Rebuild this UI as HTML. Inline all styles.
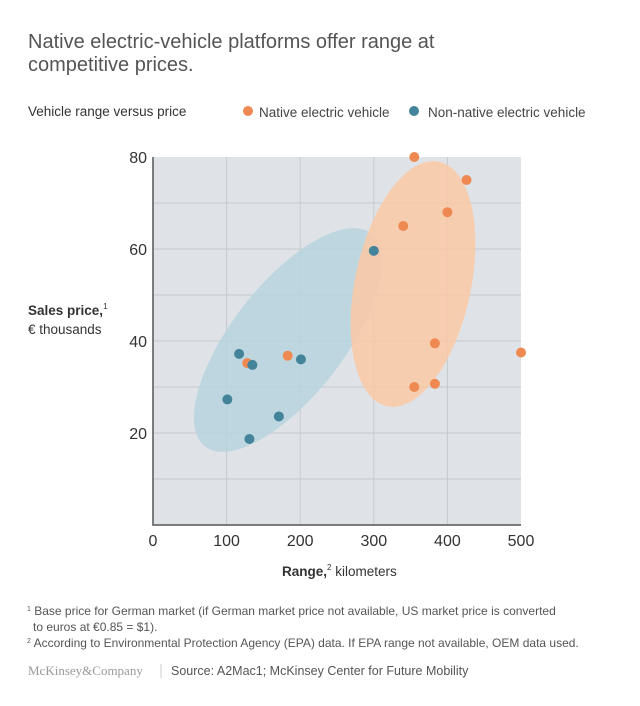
<!DOCTYPE html>
<html><head><meta charset="utf-8"><style>
body{margin:0;background:#fff;width:640px;height:706px;overflow:hidden;font-family:"Liberation Sans",sans-serif}
svg{display:block}
</style></head><body>
<svg id="chart" width="640" height="706" xmlns="http://www.w3.org/2000/svg" font-family="Liberation Sans, sans-serif">
<text x="28" y="48" font-size="20" fill="#555">Native electric-vehicle platforms offer range at</text>
<text x="28" y="71" font-size="20" fill="#555">competitive prices.</text>
<text x="28" y="116" font-size="13.5" fill="#333">Vehicle range versus price</text>
<circle cx="248" cy="111" r="5" fill="#ee8a51"/>
<text x="259" y="117" font-size="13.5" fill="#444">Native electric vehicle</text>
<circle cx="414" cy="111" r="5" fill="#44849a"/>
<text x="428" y="117" font-size="13.5" fill="#444">Non-native electric vehicle</text>
<g id="plot"></g>
<text x="28" y="315" font-size="13.5" font-weight="bold" fill="#333">Sales price,<tspan font-size="8" dy="-6" font-weight="normal">1</tspan></text>
<text x="28" y="334" font-size="13.5" fill="#333">€ thousands</text>
<text x="282" y="576" font-size="13.5" fill="#333"><tspan font-weight="bold">Range,</tspan><tspan font-size="8" dy="-6">2</tspan><tspan dy="6"> kilometers</tspan></text>
<text x="27" y="615" font-size="12" fill="#555"><tspan font-size="7" dy="-4">1</tspan><tspan dy="4"> Base price for German market (if German market price not available, US market price is converted</tspan></text>
<text x="33" y="631" font-size="12" fill="#555">to euros at €0.85 = $1).</text>
<text x="27" y="647" font-size="12" fill="#555"><tspan font-size="7" dy="-4">2</tspan><tspan dy="4"> According to Environmental Protection Agency (EPA) data. If EPA range not available, OEM data used.</tspan></text>
<text x="28" y="675" font-family="Liberation Serif, serif" font-size="13" fill="#999">McKinsey&amp;Company</text>
<line x1="161" y1="664" x2="161" y2="678" stroke="#ccc"/>
<text x="171" y="675" font-size="12.5" fill="#555">Source: A2Mac1; McKinsey Center for Future Mobility</text>
</svg>
<script>
const xTicks=[0,100,200,300,400,500];
const yTicks=[20,40,60,80];
const nativeRange=[355,426,400,340,383,500,355,383,183,128];
const nativePrice=[80,75,68,65,39.5,37.5,30,30.7,36.8,35.2];
const nonNativeRange=[300,117,135,201,101,171,131];
const nonNativePrice=[59.6,37.2,34.8,36,27.3,23.6,18.7];
const X0=153,X1=521,Y0=525,Y1=157;
const sx=v=>X0+(v-0)/500*(X1-X0);
const sy=v=>Y0-(v-0)/80*(Y0-Y1);
const NS="http://www.w3.org/2000/svg";
const g=document.getElementById('plot');
function mk(t,a){const e=document.createElementNS(NS,t);for(const k in a)e.setAttribute(k,a[k]);g.appendChild(e);return e;}
let e=mk('rect',{x:X0,y:Y1,width:X1-X0,height:Y0-Y1,fill:'#dfe3e7'});


for(let v=10;v<80;v+=10){e=mk('line',{x1:X0,x2:X1,y1:sy(v),y2:sy(v),stroke:'#c4cacf','stroke-width':1});

}
xTicks.forEach(v=>{if(v>0&&v<500){e=mk('line',{x1:sx(v),x2:sx(v),y1:Y1,y2:Y0,stroke:'#c4cacf'});

}});
e=mk('ellipse',{cx:288,cy:340,rx:135,ry:56,fill:'#b9d4de',opacity:0.85,transform:'rotate(-52 288 340)'});


e=mk('ellipse',{cx:413,cy:284,rx:58,ry:125,fill:'#fcc9a6',opacity:0.85,transform:'rotate(12 413 284)'});


e=mk('polyline',{points:`${X0},${Y1} ${X0},${Y0} ${X1},${Y0}`,fill:'none',stroke:'#555','stroke-width':1.5});


xTicks.forEach(v=>{e=mk('text',{x:sx(v),y:Y0+21,'text-anchor':'middle','font-size':16,fill:'#333'});e.textContent=v;

});
yTicks.forEach(v=>{e=mk('text',{x:X0-6,y:sy(v)+6,'text-anchor':'end','font-size':16,fill:'#333'});e.textContent=v;

});
nativeRange.forEach((r,i)=>{e=mk('circle',{cx:sx(r),cy:sy(nativePrice[i]),r:5,fill:'#ee8a51'});

});
nonNativeRange.forEach((r,i)=>{e=mk('circle',{cx:sx(r),cy:sy(nonNativePrice[i]),r:5,fill:'#44849a'});

});
</script>
</body></html>
